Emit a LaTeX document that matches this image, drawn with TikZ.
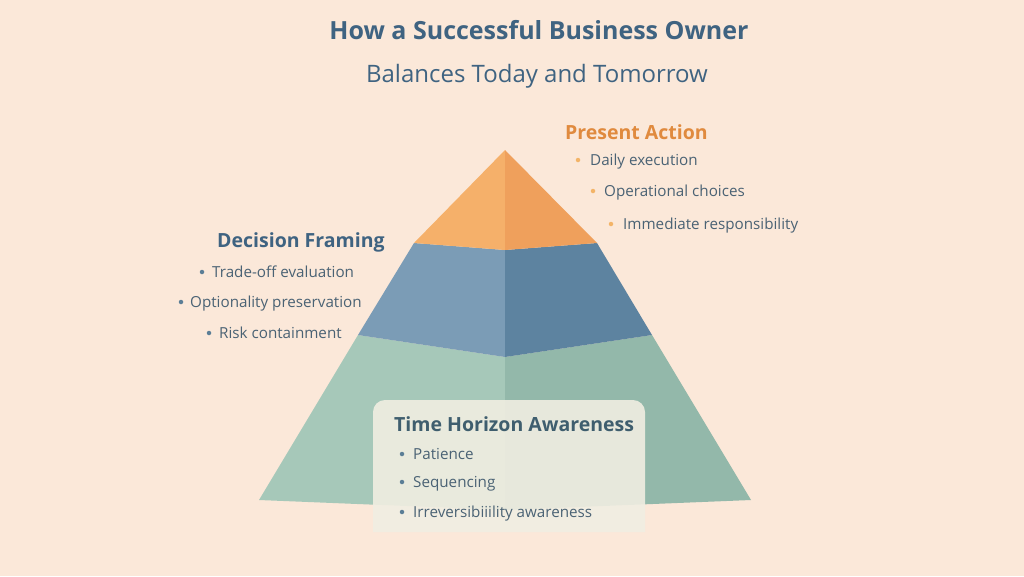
\documentclass[tikz,border=0pt]{standalone}
\usepackage{fontspec}
\setmainfont{Open Sans}
\definecolor{bgc}{HTML}{FBE8D9}
\definecolor{titlec}{HTML}{3F6381}
\definecolor{textc}{HTML}{4A6274}
\definecolor{orangeT}{HTML}{E08A3E}
\definecolor{orangeB}{HTML}{F3B468}
\definecolor{orL}{HTML}{F5B06A}
\definecolor{orR}{HTML}{EFA05C}
\definecolor{blL}{HTML}{7B9CB6}
\definecolor{blR}{HTML}{5D83A0}
\definecolor{grL}{HTML}{A6C8B9}
\definecolor{grR}{HTML}{93B8AA}
\definecolor{boxc}{HTML}{F1EEE2}
\definecolor{dfc}{HTML}{3F6381}
\definecolor{thc}{HTML}{3F5E6E}
\definecolor{blt}{HTML}{5B7E96}
\tikzset{
  ttl/.style={anchor=base, font=\fontsize{25}{28}\selectfont\bfseries, text=titlec, inner sep=0},
  subttl/.style={anchor=base, font=\fontsize{24}{28}\selectfont, text=titlec, inner sep=0},
  head/.style={anchor=base west, font=\fontsize{19.5}{22}\selectfont\bfseries, inner sep=0},
  item/.style={anchor=base west, font=\fontsize{15.2}{18}\selectfont, text=textc, inner sep=0},
  dotO/.style={circle, fill=orangeB, inner sep=0, minimum size=4.5pt},
  dotB/.style={circle, fill=blt, inner sep=0, minimum size=4.5pt},
}
\begin{document}
\begin{tikzpicture}[x=1pt,y=-1pt]
\fill[bgc] (0,0) rectangle (1024,576);
\useasboundingbox (0,0) rectangle (1024,576);
% pyramid coordinates
\coordinate (apex) at (505,150);
\coordinate (oL) at (414,243);
\coordinate (oC) at (505,250);
\coordinate (oR) at (597,243);
\coordinate (bL) at (358,335);
\coordinate (bC) at (505,357);
\coordinate (bR) at (652,335);
\coordinate (gL) at (259,500);
\coordinate (gC) at (505,510);
\coordinate (gR) at (751,500);
% green layer
\fill[grL] (bL) -- (bC) -- (gC) -- (gL) -- cycle;
\fill[grR] (bC) -- (bR) -- (gR) -- (gC) -- cycle;
% blue layer
\fill[blL] (oL) -- (oC) -- (bC) -- (bL) -- cycle;
\fill[blR] (oC) -- (oR) -- (bR) -- (bC) -- cycle;
% orange layer
\fill[orL] (apex) -- (oC) -- (oL) -- cycle;
\fill[orR] (apex) -- (oR) -- (oC) -- cycle;
% bottom panel
\fill[boxc, fill opacity=0.9] (373,532) [rounded corners=12pt] -- (373,400) -- (645,400) [sharp corners] -- (645,532) -- cycle;
% title
\node[ttl] (t1) at (539,39) {How a Successful Business Owner};
\node[subttl] (t2) at (537,82) {Balances Today and Tomorrow};
% Present Action
\node[head, text=orangeT] (pa) at (565,139) {Present Action};
\node[dotO] (pa1d) at (578,160) {};
\node[item] (pa1) at (590,165) {Daily execution};
\node[dotO] (pa2d) at (593,191) {};
\node[item] (pa2) at (604,196) {Operational choices};
\node[dotO] (pa3d) at (611,224) {};
\node[item] (pa3) at (623,229) {Immediate responsibility};
% Decision Framing
\node[head, text=dfc] (df) at (217,247) {Decision Framing};
\node[dotB] (df1d) at (202,272) {};
\node[item] (df1) at (212,277) {Trade-off evaluation};
\node[dotB] (df2d) at (181,302) {};
\node[item] (df2) at (190,307) {Optionality preservation};
\node[dotB] (df3d) at (209,333) {};
\node[item] (df3) at (219,338) {Risk containment};
% Time Horizon Awareness
\node[head, text=thc] (th) at (394,431) {Time Horizon Awareness};
\node[dotB] (th1d) at (402,454) {};
\node[item] (th1) at (413,459) {Patience};
\node[dotB] (th2d) at (402,482) {};
\node[item] (th2) at (413,487) {Sequencing};
\node[dotB] (th3d) at (402,512) {};
\node[item] (th3) at (413,517) {Irreversibiiility awareness};
\end{tikzpicture}
\end{document}
